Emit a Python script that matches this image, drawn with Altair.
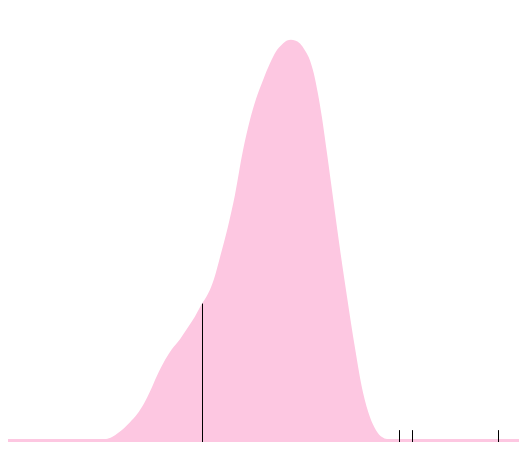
import altair as alt
import pandas as pd

# density curve (x position, density height)
xs = [0, 60, 106, 112, 118, 124, 130, 137, 144, 150, 157, 165, 172, 180, 188, 195, 202, 208, 214,
      220, 228, 235, 243, 250, 256, 263, 270, 276, 282, 287, 291, 295, 300, 305, 310, 314, 318, 322, 327,
      333, 340, 347, 355, 363, 370, 376, 382, 387, 400, 450, 519]
dens = [3, 3, 3, 5, 9, 14, 20, 28, 39, 51, 67, 83, 94, 104, 116, 127, 140, 150, 165,
        187, 218, 250, 295, 326, 347, 366, 383, 395, 402, 406, 407, 406, 403, 396, 386, 372, 352, 328, 292,
        247, 195, 147, 95, 50, 25, 12, 5, 3, 3, 3, 3]

# observation markers (x position, marker height)
obs_x = [202, 399, 412, 498]
obs_h = [140, 12, 12, 12]

area_df = pd.DataFrame({"x": xs, "d": dens})
rule_df = pd.DataFrame({"x": obs_x, "h": obs_h})

xscale = alt.Scale(domain=[8, 519], nice=False, zero=False)
yscale = alt.Scale(domain=[0, 439], nice=False)

area = alt.Chart(area_df).mark_area(color="#fdc7e1", interpolate="monotone", clip=True).encode(
    x=alt.X("x:Q", scale=xscale, axis=None),
    y=alt.Y("d:Q", scale=yscale, axis=None),
)

rules = alt.Chart(rule_df).mark_rule(color="black", strokeWidth=1, xOffset=0.5).encode(
    x=alt.X("x:Q", scale=xscale, axis=None),
    y=alt.Y("h:Q", scale=yscale, axis=None),
    y2=alt.datum(0),
)

chart = (area + rules).properties(
    width=511, height=434, padding=0, autosize=alt.AutoSizeParams(type="none")
).configure_view(stroke=None)

chart.save("out.html", embed_options={"renderer": "svg", "actions": False})
